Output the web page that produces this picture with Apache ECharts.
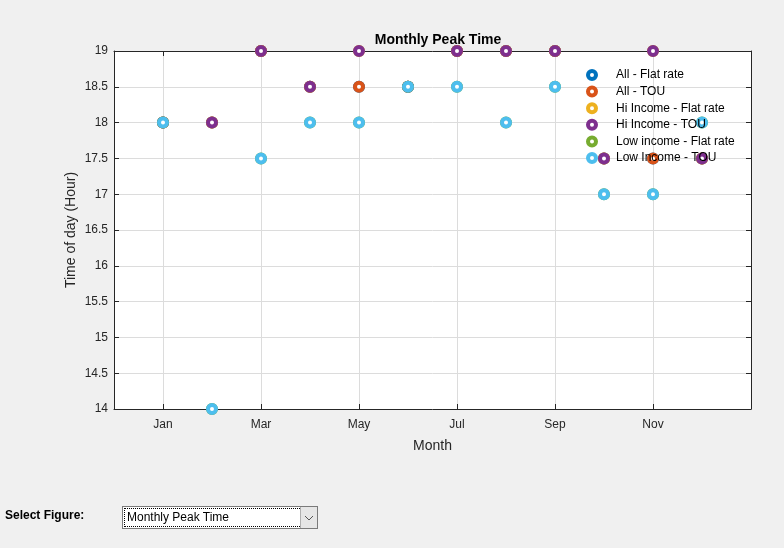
<!DOCTYPE html>
<html>
<head>
<meta charset="utf-8">
<script src="https://cdn.jsdelivr.net/npm/echarts@6/dist/echarts.min.js"></script>
<style>
  html, body { margin: 0; padding: 0; background: #f0f0f0; }
  #wrap { position: relative; width: 784px; height: 548px; overflow: hidden; }
  #chart { position: absolute; left: 0; top: 0; width: 784px; height: 548px; }
  .lbl { position: absolute; left: 5px; top: 508px; font: bold 12px "Liberation Sans", Arial, sans-serif; color: #000; }
  .dd { position: absolute; left: 122px; top: 506px; width: 196px; height: 23px; background: #fff; border: 1px solid #7a7a7a; box-sizing: border-box; }
  .dd .txt { position: absolute; left: 1px; top: 1px; width: 178px; height: 19px; border: 1px dotted #000; box-sizing: border-box;
             font: 12px "Liberation Sans", Arial, sans-serif; color: #000; line-height: 17px; padding-left: 2px; }
  .dd .btn { position: absolute; right: 0; top: 0; width: 16px; height: 21px; background: #e6e6e6; border-left: 1px solid #b0b0b0; }
  .dd .btn svg { position: absolute; left: 3px; top: 8px; }
</style>
</head>
<body>
<div id="wrap">
  <div id="chart"></div>
  <div class="lbl">Select Figure:</div>
  <div class="dd">
    <div class="txt">Monthly Peak Time</div>
    <div class="btn"><svg width="10" height="6"><polyline points="1,1 5,5 9,1" fill="none" stroke="#555" stroke-width="1"/></svg></div>
  </div>
</div>
<script>
// months on a category axis padded with blank ends so the range runs 0..13
const months = ['Jan', 'Feb', 'Mar', 'Apr', 'May', 'Jun', 'Jul', 'Aug', 'Sep', 'Oct', 'Nov', 'Dec'];
const axisCats = [''].concat(months, ['']);

const seriesNames = ['All - Flat rate', 'All - TOU', 'Hi Income - Flat rate', 'Hi Income - TOU', 'Low income - Flat rate', 'Low Income - TOU'];
const seriesColors = ['#0072BD', '#D95319', '#EDB120', '#7E2F8E', '#77AC30', '#4DBEEE'];

// peak hour per month (hidden points sit under later series)
const allFlat = [18, 18, 19, 18.5, 18.5, 18.5, 19, 19, 19, 17.5, 17.5, 17.5];
const allTou = [18, 18, 19, 18.5, 18.5, 18.5, 19, 19, 19, 17.5, 17.5, 17.5];
const hiFlat = [18, 18, 19, 18.5, 19, 18.5, 19, 19, 19, 17.5, 19, 17.5];
const hiTou = [18, 18, 19, 18.5, 19, 18.5, 19, 19, 19, 17.5, 19, 17.5];
const lowFlat = [18, 14, 17.5, 18, 18, 18.5, 18.5, 18, 18.5, 17, 17, 18];
const lowTou = [18, 14, 17.5, 18, 18, 18.5, 18.5, 18, 18.5, 17, 17, 18];

const allValues = [allFlat, allTou, hiFlat, hiTou, lowFlat, lowTou];

const font = '"Liberation Sans", Arial, Helvetica, sans-serif';
const axisColor = '#262626';
const oddOnly = (idx) => idx % 2 === 1;

const chart = echarts.init(document.getElementById('chart'));

const series = allValues.map((vals, i) => ({
    name: seriesNames[i],
    type: 'scatter',
    symbol: 'circle',
    symbolSize: 8,
    clip: false,
    itemStyle: {
        color: '#ffffff',
        borderColor: seriesColors[i],
        borderWidth: 4,
        opacity: 1
    },
    emphasis: { disabled: true },
    data: vals.map((v, m) => [months[m], v])
}));

const option = {
    backgroundColor: '#f0f0f0',
    animation: false,
    title: {
        text: 'Monthly Peak Time',
        left: 433,
        top: 28,
        textAlign: 'center',
        textStyle: { fontFamily: font, fontSize: 14, fontWeight: 'bold', color: '#000' }
    },
    legend: {
        left: 581,
        top: 63,
        orient: 'vertical',
        itemWidth: 38,
        itemHeight: 8,
        itemGap: 2.6,
        icon: 'circle',
        selectedMode: false,
        itemStyle: { color: '#ffffff', borderWidth: 4 },
        textStyle: { fontFamily: font, fontSize: 12, color: '#000', lineHeight: 14 },
        data: seriesNames
    },
    grid: { left: 114, top: 51, width: 637, height: 358, backgroundColor: '#fff', show: true, borderWidth: 0 },
    xAxis: [{
        type: 'category',
        data: axisCats,
        boundaryGap: false,
        name: 'Month',
        nameLocation: 'middle',
        nameGap: 30,
        nameMoveOverlap: false,
        nameTextStyle: { fontFamily: font, fontSize: 14, color: axisColor },
        axisLine: { lineStyle: { color: axisColor, width: 1 } },
        axisTick: { inside: true, length: 5, interval: oddOnly, lineStyle: { color: axisColor } },
        axisLabel: { interval: oddOnly, margin: 10, fontFamily: font, fontSize: 12, color: axisColor },
        splitLine: { show: true, interval: oddOnly, lineStyle: { color: '#dcdcdc', width: 1 } }
    }, {
        type: 'category',
        data: axisCats,
        boundaryGap: false,
        position: 'top',
        axisLine: { lineStyle: { color: axisColor, width: 1 } },
        axisTick: { inside: true, length: 5, interval: oddOnly, lineStyle: { color: axisColor } },
        axisLabel: { show: false },
        splitLine: { show: false }
    }],
    yAxis: [{
        type: 'value',
        min: 14,
        max: 19,
        interval: 0.5,
        name: 'Time of day (Hour)',
        nameLocation: 'middle',
        nameGap: 36,
        nameMoveOverlap: false,
        nameTextStyle: { fontFamily: font, fontSize: 14, color: axisColor },
        axisLine: { show: true, lineStyle: { color: axisColor, width: 1 } },
        axisTick: { show: true, inside: true, length: 5, lineStyle: { color: axisColor } },
        axisLabel: { margin: 6, fontFamily: font, fontSize: 12, color: axisColor },
        splitLine: { show: true, lineStyle: { color: '#dcdcdc', width: 1 } }
    }, {
        type: 'value',
        min: 14,
        max: 19,
        interval: 0.5,
        position: 'right',
        axisLine: { show: true, lineStyle: { color: axisColor, width: 1 } },
        axisTick: { show: true, inside: true, length: 5, lineStyle: { color: axisColor } },
        axisLabel: { show: false },
        splitLine: { show: false }
    }],
    series: series
};

chart.setOption(option);
</script>
</body>
</html>
